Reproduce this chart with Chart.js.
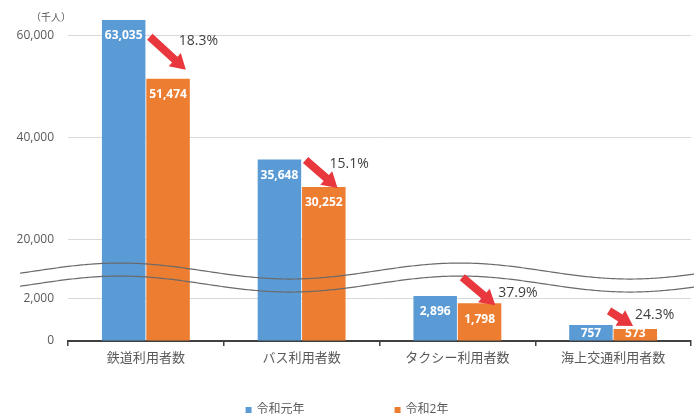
<!DOCTYPE html>
<html>
<head>
<meta charset="utf-8">
<script src="https://cdn.jsdelivr.net/npm/chart.js@4.4.1/dist/chart.umd.min.js"></script>
<style>
  html, body { margin: 0; padding: 0; background: #fff; }
</style>
</head>
<body>
<canvas id="usersChart" width="694" height="419"></canvas>
<script>
// 利用者数（千人）
const categories = ['鉄道利用者数', 'バス利用者数', 'タクシー利用者数', '海上交通利用者数'];
const seriesNames = ['令和元年', '令和2年'];
const reiwa1 = [63035, 35648, 2896, 757];
const reiwa2 = [51474, 30252, 1798, 573];
const yTicks = [0, 2000, 20000, 40000, 60000];
const unitLabel = '（千人）';

const blue = '#5B9BD5';
const orange = '#ED7D31';
const textGray = '#595959';
const font = "'Open Sans', 'Noto Sans CJK JP', sans-serif";

// axis is squeezed below 20,000 so the small bars stay readable
const breakStops = [[0, 0], [2000, 0.129], [20000, 0.3125], [64000, 1]];

class BrokenLinearScale extends Chart.LinearScale {
  buildTicks() {
    return yTicks.map(v => ({ value: v }));
  }
  getPixelForValue(value) {
    let f = 1;
    for (let i = 1; i < breakStops.length; i++) {
      const [v0, f0] = breakStops[i - 1];
      const [v1, f1] = breakStops[i];
      if (value <= v1) { f = f0 + (value - v0) / (v1 - v0) * (f1 - f0); break; }
    }
    return this.bottom - f * (this.bottom - this.top);
  }
  getValueForPixel(pixel) {
    const f = (this.bottom - pixel) / (this.bottom - this.top);
    for (let i = 1; i < breakStops.length; i++) {
      const [v0, f0] = breakStops[i - 1];
      const [v1, f1] = breakStops[i];
      if (f <= f1) return v0 + (f - f0) / (f1 - f0) * (v1 - v0);
    }
    return breakStops[breakStops.length - 1][0];
  }
}
BrokenLinearScale.id = 'brokenLinear';
BrokenLinearScale.defaults = Chart.LinearScale.defaults;
Chart.register(BrokenLinearScale);

// arrow / percentage placement, offsets from the top-right corner of the 令和2年 bar
const arrowLayout = [
  { tail: [-40, -42], tip: [-4, -9], text: [-11, -38] },
  { tail: [-40, -27], tip: [-8, 1], text: [-16, -23] },
  { tail: [-39, -26], tip: [-6, 2], text: [-3, -10] },
  { tail: [-48, -18], tip: [-24, -3], text: [-22, -14] }
];

function drawArrow(ctx, x0, y0, x1, y1) {
  const ang = Math.atan2(y1 - y0, x1 - x0);
  const len = Math.hypot(x1 - x0, y1 - y0);
  const head = 15, hw = 9, sw = 4;
  ctx.save();
  ctx.translate(x0, y0);
  ctx.rotate(ang);
  ctx.beginPath();
  ctx.moveTo(0, -sw);
  ctx.lineTo(len - head, -sw);
  ctx.lineTo(len - head, -hw);
  ctx.lineTo(len, 0);
  ctx.lineTo(len - head, hw);
  ctx.lineTo(len - head, sw);
  ctx.lineTo(0, sw);
  ctx.closePath();
  ctx.fillStyle = '#E8383D';
  ctx.fill();
  ctx.restore();
}

const decorations = {
  id: 'decorations',
  afterDatasetsDraw(chart) {
    const ctx = chart.ctx;
    const y = chart.scales.y;
    const m0 = chart.getDatasetMeta(0).data;
    const m1 = chart.getDatasetMeta(1).data;

    // wavy break marks across the squeezed band
    const mid = (y.getPixelForValue(2000) + y.getPixelForValue(20000)) / 2 + 2;
    ctx.save();
    ctx.strokeStyle = '#6a6a6a';
    ctx.lineWidth = 1.2;
    [0, 13].forEach(dy => {
      ctx.beginPath();
      for (let x = 20; x <= chart.width; x += 2) {
        const yy = mid + dy - 8 * Math.sin(2 * Math.PI * (x - 35) / 340);
        if (x === 20) ctx.moveTo(x, yy); else ctx.lineTo(x, yy);
      }
      ctx.stroke();
    });
    ctx.restore();

    // values inside the bars
    ctx.save();
    ctx.font = 'bold 12px ' + font;
    ctx.fillStyle = '#fff';
    ctx.textAlign = 'center';
    ctx.textBaseline = 'middle';
    [[m0, reiwa1], [m1, reiwa2]].forEach(([els, vals]) => {
      els.forEach((el, i) => {
        const ty = Math.min(el.y + 16, el.base - 7);
        ctx.fillText(vals[i].toLocaleString('en-US'), el.x, ty);
      });
    });
    ctx.restore();

    // decrease arrows and rates
    ctx.save();
    ctx.font = '14px ' + font;
    ctx.fillStyle = '#404040';
    ctx.textAlign = 'left';
    ctx.textBaseline = 'middle';
    m1.forEach((el, i) => {
      const rx = el.x + el.width / 2;
      const ry = el.y;
      const a = arrowLayout[i];
      drawArrow(ctx, rx + a.tail[0], ry + a.tail[1], rx + a.tip[0], ry + a.tip[1]);
      const rate = ((1 - reiwa2[i] / reiwa1[i]) * 100).toFixed(1) + '%';
      ctx.fillText(rate, rx + a.text[0], ry + a.text[1]);
    });
    ctx.restore();
  },
  afterDraw(chart) {
    const ctx = chart.ctx;
    ctx.save();
    // unit
    ctx.font = '10px ' + font;
    ctx.fillStyle = textGray;
    ctx.textAlign = 'center';
    ctx.textBaseline = 'middle';
    ctx.fillText(unitLabel, 51, 18);

    // legend
    ctx.font = '12px ' + font;
    ctx.textAlign = 'left';
    const box = 6, gap = 5, between = 90;
    const colors = [blue, orange];
    const widths = seriesNames.map(n => box + gap + ctx.measureText(n).width);
    let x = chart.width / 2 - (widths[0] + between + widths[1]) / 2;
    const ly = 410;
    seriesNames.forEach((n, i) => {
      ctx.fillStyle = colors[i];
      ctx.fillRect(x, ly - box / 2, box, box);
      ctx.fillStyle = textGray;
      ctx.fillText(n, x + box + gap, ly);
      x += widths[i] + between;
    });
    ctx.restore();
  }
};

new Chart(document.getElementById('usersChart').getContext('2d'), {
  type: 'bar',
  data: {
    labels: categories,
    datasets: [
      { label: seriesNames[0], data: reiwa1, backgroundColor: blue, barPercentage: 0.98, categoryPercentage: 0.57 },
      { label: seriesNames[1], data: reiwa2, backgroundColor: orange, barPercentage: 0.98, categoryPercentage: 0.57 }
    ]
  },
  options: {
    responsive: false,
    animation: false,
    layout: { padding: { top: 15, right: 3, left: 0, bottom: 0 } },
    scales: {
      x: {
        afterFit: s => { s.height = 78; s.paddingLeft = 0; s.paddingRight = 0; },
        grid: {
          drawOnChartArea: false,
          drawTicks: true,
          tickLength: 5,
          color: '#404040',
          lineWidth: 1.5
        },
        border: { display: true, color: '#404040', width: 2 },
        ticks: { color: textGray, font: { family: font, size: 13 }, padding: 4, maxRotation: 0, autoSkip: false }
      },
      y: {
        type: 'brokenLinear',
        min: 0,
        max: 64000,
        afterFit: s => { s.width = 68; s.paddingTop = 0; s.paddingBottom = 0; },
        grid: {
          drawTicks: false,
          color: c => (c.tick && c.tick.value === 0) ? 'rgba(0,0,0,0)' : '#d9d9d9'
        },
        border: { display: false },
        ticks: {
          color: textGray,
          font: { family: font, size: 12 },
          padding: 14,
          callback: v => v.toLocaleString('en-US')
        }
      }
    },
    plugins: {
      legend: { display: false },
      tooltip: { enabled: false }
    }
  },
  plugins: [decorations]
});
</script>
</body>
</html>
